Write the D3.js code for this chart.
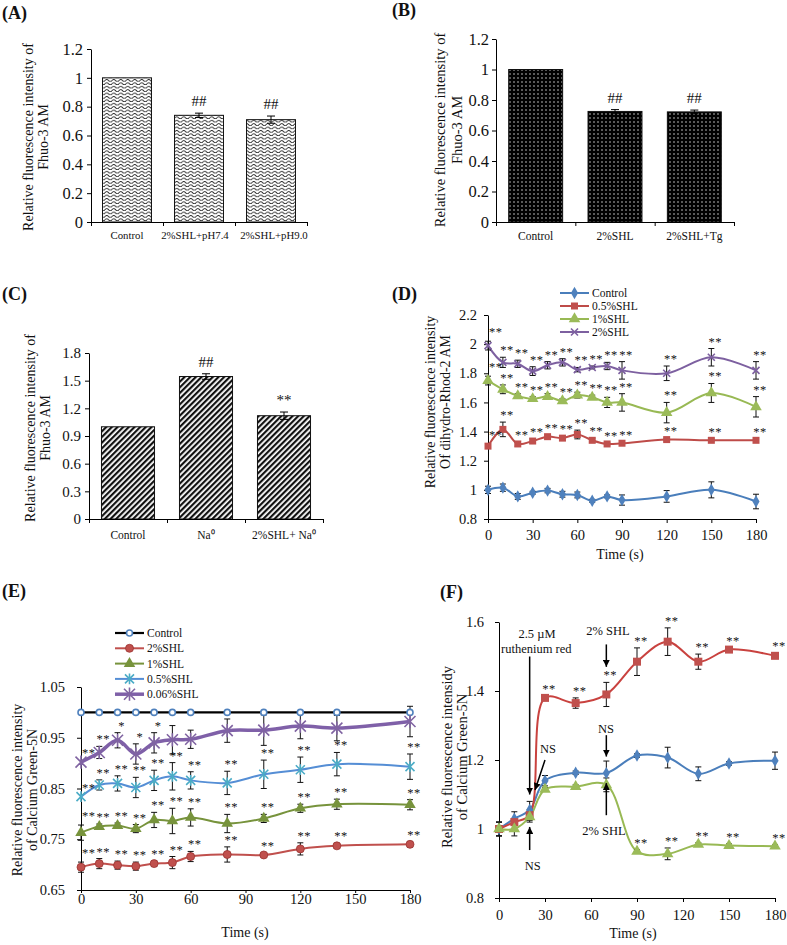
<!DOCTYPE html>
<html>
<head>
<meta charset="utf-8">
<script src="https://cdn.jsdelivr.net/npm/d3@7"></script>
<style>
  body { margin: 0; background: #fff; }
  text { font-family: "Liberation Serif", "Times New Roman", serif; fill: #111; }
</style>
</head>
<body>
<svg id="fig" width="787" height="945"></svg>
<script>
// ---------- data: bar panels ----------
var catsA = ["Control", "2%SHL+pH7.4", "2%SHL+pH9.0"];
var valsA = [1, 0.74, 0.71];
var errA  = [0, 0.015, 0.025];
var sigA  = ["", "##", "##"];

var catsB = ["Control", "2%SHL", "2%SHL+Tg"];
var valsB = [1, 0.725, 0.722];
var errB  = [0, 0.012, 0.012];
var sigB  = ["", "##", "##"];

var catsC = ["Control", "Na\u2070", "2%SHL+ Na\u2070"];
var valsC = [1, 1.545, 1.12];
var errC  = [0, 0.03, 0.04];
var sigC  = ["", "##", "**"];

var ticksAB = [0, 0.2, 0.4, 0.6, 0.8, 1, 1.2];
var ticksC  = [0, 0.3, 0.6, 0.9, 1.2, 1.5, 1.8];
var timeTicks = [0, 30, 60, 90, 120, 150, 180];

// ---------- data: panel D ----------
var ticksD = [0.8, 1, 1.2, 1.4, 1.6, 1.8, 2, 2.2];
var timeD = [0, 10, 20, 30, 40, 50, 60, 70, 80, 90, 120, 150, 180];
var dControl    = [1.0, 1.015, 0.955, 0.98, 0.995, 0.97, 0.965, 0.925, 0.955, 0.93, 0.955, 1.0, 0.92];
var dControlErr = [0.025, 0.025, 0.02, 0.01, 0.015, 0.02, 0.02, 0.01, 0.01, 0.035, 0.04, 0.055, 0.05];
var dSHL05      = [1.3, 1.415, 1.315, 1.335, 1.365, 1.355, 1.38, 1.34, 1.315, 1.32, 1.345, 1.34, 1.34];
var dSHL05Err   = [0.015, 0.05, 0.015, 0.015, 0.01, 0.015, 0.03, 0.015, 0.01, 0.01, 0.01, 0.01, 0.01];
var dSHL1       = [1.75, 1.69, 1.645, 1.625, 1.64, 1.61, 1.65, 1.635, 1.6, 1.6, 1.53, 1.665, 1.57];
var dSHL1Err    = [0.03, 0.03, 0.015, 0.015, 0.02, 0.015, 0.02, 0.015, 0.035, 0.06, 0.07, 0.065, 0.07];
var dSHL2       = [1.99, 1.875, 1.865, 1.815, 1.855, 1.875, 1.825, 1.84, 1.85, 1.82, 1.80, 1.91, 1.82];
var dSHL2Err    = [0.03, 0.035, 0.025, 0.03, 0.025, 0.025, 0.015, 0.01, 0.025, 0.06, 0.05, 0.06, 0.06];
var dStars      = ["**", "**", "**", "**", "**", "**", "**", "**", "**", "**", "**", "**", "**"];

// ---------- data: panel E ----------
var ticksE = [0.65, 0.75, 0.85, 0.95, 1.05];
var timeE = [0, 10, 20, 30, 40, 50, 60, 80, 100, 120, 140, 180];
var eControl    = [1, 1, 1, 1, 1, 1, 1, 1, 1, 1, 1, 1];
var eControlErr = [0, 0, 0, 0, 0, 0, 0, 0, 0, 0, 0, 0];
var eSHL2       = [0.695, 0.702, 0.699, 0.697, 0.702, 0.704, 0.716, 0.720, 0.719, 0.731, 0.737, 0.74];
var eSHL2Err    = [0.01, 0.01, 0.008, 0.008, 0.005, 0.012, 0.01, 0.015, 0.003, 0.012, 0.005, 0.005];
var eSHL1       = [0.763, 0.775, 0.777, 0.771, 0.788, 0.786, 0.793, 0.781, 0.791, 0.811, 0.819, 0.818];
var eSHL1Err    = [0.015, 0.005, 0.005, 0.008, 0.015, 0.025, 0.017, 0.018, 0.008, 0.008, 0.01, 0.01];
var eSHL05      = [0.834, 0.857, 0.860, 0.852, 0.866, 0.874, 0.866, 0.861, 0.878, 0.887, 0.898, 0.893];
var eSHL05Err   = [0, 0.01, 0.015, 0.02, 0.02, 0.027, 0.017, 0.023, 0.028, 0.025, 0.023, 0.025];
var eSHL006     = [0.902, 0.921, 0.945, 0.918, 0.940, 0.946, 0.947, 0.964, 0.965, 0.973, 0.969, 0.982];
var eSHL006Err  = [0, 0.012, 0.015, 0.02, 0.02, 0.028, 0.018, 0.023, 0.03, 0.025, 0.025, 0.03];
var eStarsAll   = ["**", "**", "**", "**", "**", "**", "**", "**", "**", "**", "**", "**"];
var eStars006   = ["**", "**", "*", "*", "*", "", "", "", "", "", "", ""];

// ---------- data: panel F ----------
var ticksF = [0.8, 1, 1.2, 1.4, 1.6];
var timeF = [0, 10, 20, 30, 50, 70, 90, 110, 130, 150, 180];
var fBlue     = [1.0, 1.03, 1.055, 1.14, 1.163, 1.162, 1.213, 1.207, 1.16, 1.19, 1.198];
var fBlueErr  = [0.02, 0.02, 0.025, 0.015, 0.005, 0.035, 0.005, 0.03, 0.02, 0.005, 0.025];
var fRed      = [1.0, 1.02, 1.04, 1.38, 1.365, 1.39, 1.485, 1.543, 1.485, 1.52, 1.502];
var fRedErr   = [0.02, 0.01, 0.015, 0.005, 0.015, 0.035, 0.04, 0.04, 0.022, 0.005, 0.008];
var fGreen    = [1.0, 1.0, 1.035, 1.115, 1.123, 1.128, 0.935, 0.928, 0.955, 0.952, 0.95];
var fGreenErr = [0.02, 0.02, 0.015, 0.005, 0.005, 0.02, 0.005, 0.017, 0.005, 0.005, 0.005];
var fRedStars   = ["", "", "", "**", "**", "**", "**", "**", "**", "**", "**"];
var fGreenStars = ["", "", "", "", "", "", "**", "**", "**", "**", "**"];

// F annotations, in data units (time, value)
var fArrows = [
  {x1: 20, y1: 1.50, x2: 20, y2: 1.10},
  {x1: 70, y1: 1.535, x2: 70, y2: 1.47},
  {x1: 70, y1: 1.272, x2: 70, y2: 1.21},
  {x1: 70, y1: 1.04, x2: 70, y2: 1.133},
  {x1: 30, y1: 1.20, x2: 23.5, y2: 1.113},
  {x1: 20, y1: 0.939, x2: 20, y2: 1.006}
];
var fNotes = [
  {t: 24.8, v: 1.555, text: "2.5 \u00b5M"},
  {t: 24.3, v: 1.510, text: "ruthenium red"},
  {t: 71.0, v: 1.562, text: "2% SHL"},
  {t: 32.0, v: 1.220, text: "NS"},
  {t: 69.8, v: 1.278, text: "NS"},
  {t: 68.5, v: 0.983, text: "2% SHL"},
  {t: 22.0, v: 0.881, text: "NS"}
];

// ---------- setup ----------
var svg = d3.select("#fig");
var fmt = function(d) { return d3.format("~g")(+d.toFixed(2)); };

var defs = svg.append("defs");

// wavy fill (A)
var wave = defs.append("pattern").attr("id", "wave").attr("patternUnits", "userSpaceOnUse")
  .attr("width", 7).attr("height", 3.4);
wave.append("rect").attr("width", 7).attr("height", 3.4).attr("fill", "#fff");
wave.append("path").attr("d", "M0,2.3 Q1.75,0.3 3.5,2.3 T7,2.3")
  .attr("fill", "none").attr("stroke", "#222").attr("stroke-width", 0.9);

// dotted fill (B)
var dots = defs.append("pattern").attr("id", "dots").attr("patternUnits", "userSpaceOnUse")
  .attr("width", 4).attr("height", 4);
dots.append("rect").attr("width", 4).attr("height", 4).attr("fill", "#000");
dots.append("circle").attr("cx", 2).attr("cy", 2).attr("r", 0.75).attr("fill", "#ddd");

// diagonal fill (C)
var diag = defs.append("pattern").attr("id", "diag").attr("patternUnits", "userSpaceOnUse")
  .attr("width", 4).attr("height", 4).attr("patternTransform", "rotate(45)");
diag.append("rect").attr("width", 4).attr("height", 4).attr("fill", "#fff");
diag.append("rect").attr("width", 2.2).attr("height", 4).attr("fill", "#111");

defs.append("marker").attr("id", "arrow").attr("viewBox", "0 0 10 10")
  .attr("refX", 10).attr("refY", 5).attr("markerWidth", 7).attr("markerHeight", 7)
  .attr("markerUnits", "userSpaceOnUse").attr("orient", "auto")
  .append("path").attr("d", "M0,0L10,5L0,10z").attr("fill", "#000");

function panelLabel(txt, x, y) {
  svg.append("text").attr("x", x).attr("y", y).attr("font-weight", "bold")
    .attr("font-size", "18px").text(txt);
}

function yTitle(lines, xs, cy, fs) {
  lines.forEach(function(l, i) {
    svg.append("text").attr("transform", "translate(" + xs[i] + "," + cy + ") rotate(-90)")
      .attr("text-anchor", "middle").attr("font-size", fs + "px").text(l);
  });
}

function styleAxis(g, fs) {
  g.attr("font-family", null).attr("font-size", null);
  g.selectAll("text").attr("font-size", fs + "px").attr("fill", "#111");
  g.selectAll("path,line").attr("stroke", "#000");
}

// ---------- bar panels ----------
function barPanel(c) {
  var g = svg.append("g");
  var x = d3.scaleBand().domain(c.cats).range([c.x0, c.x1]).paddingInner(0.32).paddingOuter(0.16);
  var xi = d3.scaleLinear().domain([0, c.cats.length]).range([c.x0, c.x1]);
  var y = d3.scaleLinear().domain([0, c.ymax]).range([c.y0, c.y1]);

  var data = c.cats.map(function(k, i) { return {cat: k, v: c.vals[i], e: c.errs[i], s: c.sig[i]}; });

  g.selectAll(".bar").data(data).enter().append("rect")
    .attr("x", function(d) { return x(d.cat); })
    .attr("width", x.bandwidth())
    .attr("y", function(d) { return y(d.v); })
    .attr("height", function(d) { return y(0) - y(d.v); })
    .attr("fill", "url(#" + c.fill + ")")
    .attr("stroke", "#111").attr("stroke-width", 1);

  var eb = g.selectAll(".eb").data(data.filter(function(d) { return d.e > 0; })).enter().append("g")
    .attr("stroke", "#000").attr("stroke-width", 1);
  eb.append("line")
    .attr("x1", function(d) { return x(d.cat) + x.bandwidth() / 2; })
    .attr("x2", function(d) { return x(d.cat) + x.bandwidth() / 2; })
    .attr("y1", function(d) { return y(d.v - d.e); })
    .attr("y2", function(d) { return y(d.v + d.e); });
  [-1, 1].forEach(function(sgn) {
    eb.append("line")
      .attr("x1", function(d) { return x(d.cat) + x.bandwidth() / 2 - 4; })
      .attr("x2", function(d) { return x(d.cat) + x.bandwidth() / 2 + 4; })
      .attr("y1", function(d) { return y(d.v + sgn * d.e); })
      .attr("y2", function(d) { return y(d.v + sgn * d.e); });
  });

  g.selectAll(".sig").data(data).enter().append("text")
    .attr("x", function(d) { return x(d.cat) + x.bandwidth() / 2; })
    .attr("y", function(d) { return y(d.v + d.e) - 7; })
    .attr("text-anchor", "middle").attr("font-size", "15px")
    .text(function(d) { return d.s; });

  var ya = g.append("g").attr("transform", "translate(" + c.x0 + ",0)")
    .call(d3.axisLeft(y).tickValues(c.ticks).tickFormat(fmt).tickSize(4).tickSizeOuter(0).tickPadding(c.pad));
  styleAxis(ya, c.tickFs);

  var xa = g.append("g").attr("transform", "translate(0," + c.y0 + ")")
    .call(d3.axisBottom(xi).ticks(c.cats.length).tickFormat("").tickSize(4).tickSizeOuter(0));
  styleAxis(xa, 11);

  g.selectAll(".cat").data(data).enter().append("text")
    .attr("x", function(d, i) { return x(d.cat) + x.bandwidth() / 2 + (c.catShift ? c.catShift[i] : 0); })
    .attr("y", c.y0 + c.catDy)
    .attr("text-anchor", "middle").attr("font-size", c.catFs + "px")
    .text(function(d) { return d.cat; });
}

barPanel({cats: catsA, vals: valsA, errs: errA, sig: sigA, x0: 91, x1: 307, y0: 222, y1: 49,
  ymax: 1.2, ticks: ticksAB, fill: "wave", pad: 4, tickFs: 16.5, catDy: 17, catFs: 10.8, catShift: [0, -4, 3]});
barPanel({cats: catsB, vals: valsB, errs: errB, sig: sigB, x0: 496, x1: 734, y0: 222, y1: 39,
  ymax: 1.2, ticks: ticksAB, fill: "dots", pad: 3, tickFs: 16.5, catDy: 18, catFs: 11.5});
barPanel({cats: catsC, vals: valsC, errs: errC, sig: sigC, x0: 89, x1: 323, y0: 519, y1: 353,
  ymax: 1.8, ticks: ticksC, fill: "diag", pad: 4, tickFs: 15, catDy: 20, catFs: 11.5});

panelLabel("(A)", 2, 19);
panelLabel("(B)", 392, 16);
panelLabel("(C)", 2, 300);
panelLabel("(D)", 392, 300);
panelLabel("(E)", 2, 597);
panelLabel("(F)", 440, 598);

yTitle(["Relative fluorescence intensity of", "Fhuo-3 AM"], [33, 48], 137, 14);
yTitle(["Relative fluorescence intensity of", "Fhuo-3 AM"], [445, 462], 130, 14.5);
yTitle(["Relative fluorescence intensity of", "Fhuo-3 AM"], [35, 50], 428, 14);

// ---------- line panels ----------
function drawMarker(sel, type, color, size) {
  if (type === "diamond") {
    sel.append("path").attr("d", d3.symbol(d3.symbolDiamond, size * size * 0.9)).attr("fill", color);
  } else if (type === "square") {
    sel.append("path").attr("d", d3.symbol(d3.symbolSquare, size * size)).attr("fill", color);
  } else if (type === "triangle") {
    sel.append("path").attr("d", d3.symbol(d3.symbolTriangle, size * size * 0.9)).attr("fill", color);
  } else if (type === "x") {
    var h = size / 2;
    sel.append("path").attr("d", "M" + (-h) + "," + (-h) + "L" + h + "," + h + "M" + (-h) + "," + h + "L" + h + "," + (-h))
      .attr("stroke", color).attr("stroke-width", 1.6).attr("fill", "none");
  } else if (type === "star") {
    var s = size / 2;
    sel.append("path").attr("d", "M" + (-s) + "," + (-s) + "L" + s + "," + s + "M" + (-s) + "," + s + "L" + s + "," + (-s) + "M0," + (-s * 1.2) + "L0," + (s * 1.2))
      .attr("stroke", color).attr("stroke-width", 1.6).attr("fill", "none");
  } else if (type === "ocircle") {
    sel.append("circle").attr("r", size / 2).attr("fill", "#fff").attr("stroke", color).attr("stroke-width", 1.6);
  } else if (type === "circle") {
    sel.append("circle").attr("r", size / 2).attr("fill", color).attr("stroke", "#9b3431").attr("stroke-width", 0.8);
  }
}

function linePanel(c) {
  var g = svg.append("g");
  var x = d3.scaleLinear().domain([0, 180]).range([c.x0, c.x1]);
  var y = d3.scaleLinear().domain(c.ydom).range([c.y0, c.y1]);

  var ya = g.append("g").attr("transform", "translate(" + c.x0 + ",0)")
    .call(d3.axisLeft(y).tickValues(c.yticks).tickFormat(fmt).tickSize(4).tickSizeOuter(0).tickPadding(c.ypad));
  styleAxis(ya, 14.5);
  var xa = g.append("g").attr("transform", "translate(0," + c.y0 + ")")
    .call(d3.axisBottom(x).tickValues(timeTicks).tickFormat(d3.format("d")).tickSize(c.xtick).tickSizeOuter(0).tickPadding(c.xpad));
  styleAxis(xa, 14.5);

  var line = d3.line().curve(d3.curveCatmullRom.alpha(0.5))
    .x(function(d) { return x(d.t); }).y(function(d) { return y(d.v); });

  c.series.forEach(function(s) {
    var pts = s.t.map(function(t, i) { return {t: t, v: s.v[i], e: s.e[i], st: s.stars ? s.stars[i] : ""}; });
    g.append("path").datum(pts).attr("d", line).attr("fill", "none")
      .attr("stroke", s.line).attr("stroke-width", s.lw);
    s.pts = pts;
  });

  c.series.forEach(function(s) {
    var eb = g.append("g").attr("stroke", "#111").attr("stroke-width", 1);
    s.pts.filter(function(d) { return d.e > 0; }).forEach(function(d) {
      eb.append("line").attr("x1", x(d.t)).attr("x2", x(d.t)).attr("y1", y(d.v - d.e)).attr("y2", y(d.v + d.e));
      eb.append("line").attr("x1", x(d.t) - 3).attr("x2", x(d.t) + 3).attr("y1", y(d.v - d.e)).attr("y2", y(d.v - d.e));
      eb.append("line").attr("x1", x(d.t) - 3).attr("x2", x(d.t) + 3).attr("y1", y(d.v + d.e)).attr("y2", y(d.v + d.e));
    });
  });

  c.series.forEach(function(s) {
    s.pts.forEach(function(d) {
      var m = g.append("g").attr("transform", "translate(" + x(d.t) + "," + y(d.v) + ")");
      drawMarker(m, s.marker, s.mcolor, s.msize);
    });
  });

  // significance marks on top of everything
  c.series.forEach(function(s) {
    s.pts.forEach(function(d) {
      if (!d.st) return;
      g.append("text")
        .attr("x", d.t === 0 ? x(d.t) + 1 : x(d.t) + 4)
        .attr("y", y(d.v + d.e) - (d.t === 0 ? 5 : 3))
        .attr("text-anchor", d.t === 0 ? "start" : "middle")
        .attr("font-size", "12.5px").attr("letter-spacing", "0.5px").attr("fill", "#000")
        .text(d.st);
    });
  });

  if (c.legend) {
    c.series.forEach(function(s, i) {
      var ly = c.legend.y + i * c.legend.dy;
      var lg = g.append("g");
      lg.append("line").attr("x1", c.legend.x).attr("x2", c.legend.x + c.legend.w)
        .attr("y1", ly).attr("y2", ly).attr("stroke", s.line).attr("stroke-width", s.lw);
      var m = lg.append("g").attr("transform", "translate(" + (c.legend.x + c.legend.w / 2) + "," + ly + ")");
      drawMarker(m, s.marker, s.mcolor, s.msize);
      lg.append("text").attr("x", c.legend.x + c.legend.w + 3).attr("y", ly + 4)
        .attr("font-size", "11.5px").text(s.name);
    });
  }
  return {x: x, y: y, g: g};
}

// D
linePanel({
  x0: 488, x1: 756, y0: 519, y1: 315, ydom: [0.8, 2.2], yticks: ticksD, ypad: 7, xtick: 4, xpad: 7,
  legend: {x: 560, y: 293, dy: 13, w: 29},
  series: [
    {name: "Control", t: timeD, v: dControl, e: dControlErr, line: "#4a7ebb", lw: 2, marker: "diamond", mcolor: "#4f81bd", msize: 7},
    {name: "0.5%SHL", t: timeD, v: dSHL05, e: dSHL05Err, stars: dStars, line: "#be4b48", lw: 2, marker: "square", mcolor: "#c0504d", msize: 7},
    {name: "1%SHL", t: timeD, v: dSHL1, e: dSHL1Err, stars: dStars, line: "#98b954", lw: 2, marker: "triangle", mcolor: "#9bbb59", msize: 8},
    {name: "2%SHL", t: timeD, v: dSHL2, e: dSHL2Err, stars: dStars, line: "#7d60a0", lw: 2, marker: "x", mcolor: "#7d60a0", msize: 7}
  ]
});
yTitle(["Relative fluorescence intensity", "Of dihydro-Rhod-2 AM"], [435, 450], 402, 14);
svg.append("text").attr("x", 620).attr("y", 559).attr("text-anchor", "middle").attr("font-size", "14px").text("Time (s)");

// E
linePanel({
  x0: 81, x1: 410, y0: 890, y1: 687, ydom: [0.65, 1.05], yticks: ticksE, ypad: 12, xtick: 3, xpad: 1,
  legend: {x: 115, y: 633, dy: 15.3, w: 29},
  series: [
    {name: "Control", t: timeE, v: eControl, e: eControlErr, line: "#000", lw: 2.2, marker: "ocircle", mcolor: "#4f81bd", msize: 6},
    {name: "2%SHL", t: timeE, v: eSHL2, e: eSHL2Err, stars: eStarsAll, line: "#c0504d", lw: 2, marker: "circle", mcolor: "#c0504d", msize: 8},
    {name: "1%SHL", t: timeE, v: eSHL1, e: eSHL1Err, stars: eStarsAll, line: "#77933c", lw: 2, marker: "triangle", mcolor: "#77933c", msize: 8},
    {name: "0.5%SHL", t: timeE, v: eSHL05, e: eSHL05Err, stars: eStarsAll, line: "#558ed5", lw: 2, marker: "star", mcolor: "#4bacc6", msize: 9},
    {name: "0.06%SHL", t: timeE, v: eSHL006, e: eSHL006Err, stars: eStars006, line: "#7f60a8", lw: 3.5, marker: "star", mcolor: "#8064a2", msize: 11}
  ]
});
yTitle(["Relative fluorescence intensity", "of Calcium Green-5N"], [22, 37], 790, 14);
svg.append("text").attr("x", 245).attr("y", 937).attr("text-anchor", "middle").attr("font-size", "14px").text("Time (s)");

// F
var pf = linePanel({
  x0: 499, x1: 775, y0: 898, y1: 622, ydom: [0.8, 1.6], yticks: ticksF, ypad: 11, xtick: 4, xpad: 8,
  series: [
    {name: "blue", t: timeF, v: fBlue, e: fBlueErr, line: "#4a7ebb", lw: 2, marker: "diamond", mcolor: "#4f81bd", msize: 7},
    {name: "red", t: timeF, v: fRed, e: fRedErr, stars: fRedStars, line: "#c9423f", lw: 2, marker: "square", mcolor: "#c0504d", msize: 8},
    {name: "green", t: timeF, v: fGreen, e: fGreenErr, stars: fGreenStars, line: "#98b954", lw: 2, marker: "triangle", mcolor: "#9bbb59", msize: 8}
  ]
});
pf.g.selectAll(".arr").data(fArrows).enter().append("line")
  .attr("x1", function(d) { return pf.x(d.x1); }).attr("y1", function(d) { return pf.y(d.y1); })
  .attr("x2", function(d) { return pf.x(d.x2); }).attr("y2", function(d) { return pf.y(d.y2); })
  .attr("stroke", "#000").attr("stroke-width", 1.5).attr("marker-end", "url(#arrow)");
pf.g.selectAll(".note").data(fNotes).enter().append("text")
  .attr("x", function(d) { return pf.x(d.t); }).attr("y", function(d) { return pf.y(d.v); })
  .attr("text-anchor", "middle").attr("font-size", "12.5px")
  .text(function(d) { return d.text; });
yTitle(["Relative fluorescence intensidy", "of Calcium Green-5N"], [452, 467], 757, 14.5);
svg.append("text").attr("x", 633).attr("y", 938).attr("text-anchor", "middle").attr("font-size", "14px").text("Time (s)");
</script>
</body>
</html>
